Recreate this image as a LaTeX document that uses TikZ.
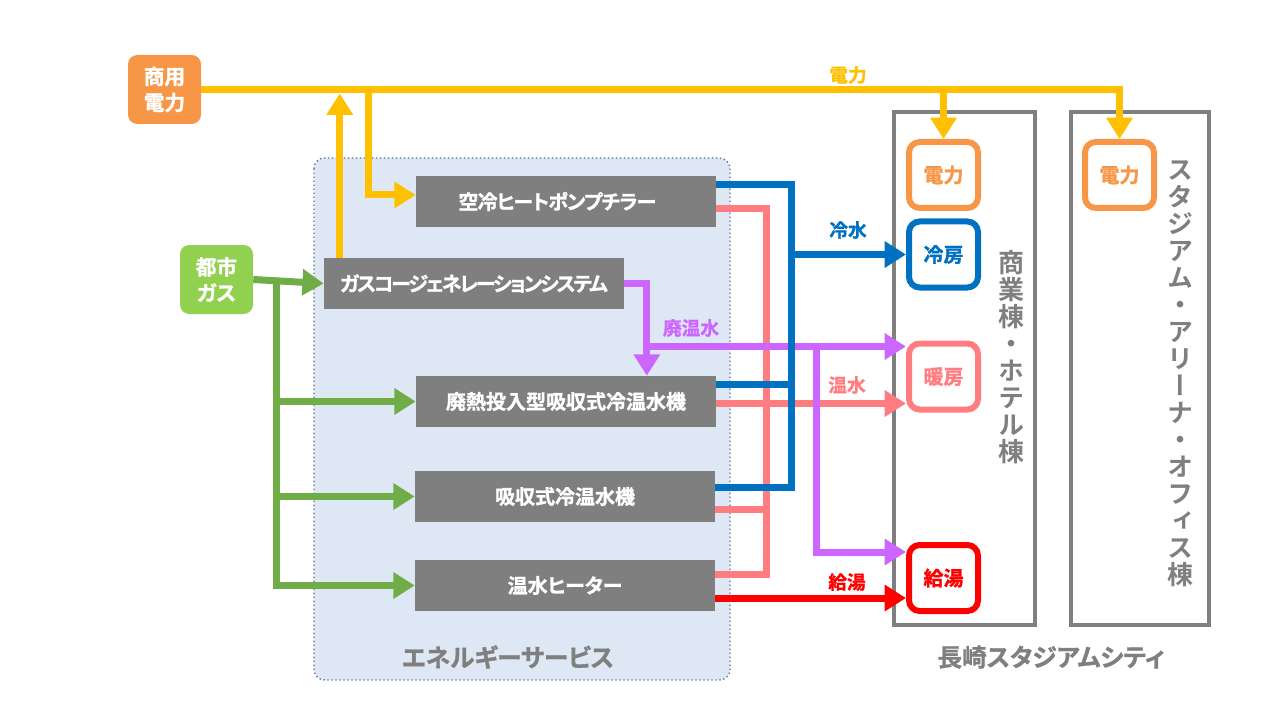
\documentclass[tikz,border=0pt]{standalone}
\usepackage{fontspec}
\setmainfont{Noto Sans CJK JP}[Script=CJK, CharacterWidth=AlternateProportional,
  BoldFont={Noto Sans CJK JP Bold}, BoldFeatures={FakeBold=1.2}]
\newfontfamily\tatefont{Noto Sans CJK JP}[Script=CJK, RawFeature=+vert,
  BoldFont={Noto Sans CJK JP Bold}]
\usetikzlibrary{arrows.meta}

\definecolor{denkiorange}{HTML}{F79646}
\definecolor{gaslight}{HTML}{92D050}
\definecolor{gasgreen}{HTML}{70AD47}
\definecolor{denkiyellow}{HTML}{FFC000}
\definecolor{reisuiblue}{HTML}{0070C0}
\definecolor{onsuipink}{HTML}{FF7C80}
\definecolor{haiviolet}{HTML}{CC66FF}
\definecolor{kyutored}{HTML}{FF0000}
\definecolor{plantgray}{HTML}{7F7F7F}
\definecolor{esback}{HTML}{DEE8F5}
\definecolor{esline}{HTML}{5B7090}

\tikzset{
  plant/.style={fill=plantgray, text=white, minimum width=225pt, minimum height=38.25pt,
    inner sep=0pt, font=\bfseries\fontsize{15}{18}\selectfont},
  tight/.style={font=\bfseries\fontsize{15}{18}\selectfont\addfontfeature{LetterSpace=#1}},
  supply/.style={fill=#1, rounded corners=7pt, text=white, minimum width=54.75pt,
    minimum height=51.75pt, inner sep=0pt, align=center,
    font=\bfseries\fontsize{15.5}{19.5}\selectfont},
  demand/.style={draw=#1, line width=4.5pt, fill=white, rounded corners=8pt, text=#1,
    minimum width=51.75pt, minimum height=49.5pt, inner sep=0pt,
    font=\bfseries\fontsize{15}{18}\selectfont},
  pipe/.style={draw=#1, line width=5.25pt},
  flow/.style={draw=#1, line width=5.25pt, -{Triangle[width=19pt,length=16pt]}},
  tag/.style={text=#1, font=\bfseries\fontsize{14}{16}\selectfont},
  bldg/.style={draw=plantgray, line width=3pt},
  grouplabel/.style={text=plantgray, font=\bfseries\fontsize{18.5}{20}\selectfont},
  tatelabel/.style={text=plantgray, align=center, inner sep=0pt,
    font=\tatefont\bfseries\fontsize{19.5}{20.25}\selectfont},
}

\begin{document}
\begin{tikzpicture}[x=0.75pt,y=-0.75pt]
    \useasboundingbox (0,0) rectangle (1280,720);

    % energy service area and buildings
    \draw [esline, dotted, line width=1pt, fill=esback, rounded corners=8pt] (314,158) rectangle (730,680);
    \node [grouplabel] (eslabel) at (508,657) {エネルギーサービス};
    \draw [bldg] (893.5,112.5) rectangle (1035,624.5);
    \draw [bldg] (1071,112.5) rectangle (1208.5,624.5);
    \node [grouplabel] (citylabel) at (1051,657) {長崎スタジアムシティ};
    \node [tatelabel] (bldgA) at (1011,357) {商\\業\\棟\\・\\ホ\\テ\\ル\\棟};
    \node [tatelabel] (bldgB) at (1180,374) {ス\\タ\\ジ\\ア\\ム\\・\\ア\\リ\\ー\\ナ\\・\\オ\\フ\\ィ\\ス\\棟};

    % sources
    \node [supply=denkiorange] (shoyo) at (164.5,89.5) {商用\\電力};
    \node [supply=gaslight] (toshigas) at (216.5,279.5) {都市\\ガス};

    % plants
    \node [plant, tight=-4] (chiller) at (566,201.5) {空冷ヒートポンプチラー\kern 13pt};
    \node [plant, tight=-10] (cgs) at (474,283.5) {ガスコージェネレーションシステム};
    \node [plant] (haineki) at (566,401.5) {廃熱投入型吸収式冷温水機};
    \node [plant] (kyushu) at (565,496.5) {吸収式冷温水機};
    \node [plant] (heater) at (565,585.5) {温水ヒーター};

    % uses
    \node [demand=denkiorange] (denkiA) at (943.5,175) {電力};
    \node [demand=reisuiblue] (reibo) at (943.5,254.5) {冷房};
    \node [demand=onsuipink] (danbo) at (943.5,376.5) {暖房};
    \node [demand=kyutored] (kyuto) at (943.5,578) {給湯};
    \node [demand=denkiorange] (denkiB) at (1119.5,175) {電力};

    % electricity
    \draw [flow=denkiyellow] (shoyo.east) -| (denkiB.north);
    \draw [flow=denkiyellow] (denkiA.north |- shoyo.east) -- (denkiA.north);
    \draw [flow=denkiyellow, shorten >=3pt] ([xshift=12pt]cgs.north west) -- ([xshift=12pt]cgs.north west |- shoyo.east);
    \draw [flow=denkiyellow] ([xshift=33.4pt]cgs.north west |- shoyo.east) |- ([yshift=4.9pt]chiller.west);
    \node [tag=denkiyellow] (denkitag) at (848,75) {電力};

    % city gas
    \coordinate (gasbus) at ([xshift=17.6pt]toshigas.east);
    \draw [flow=gasgreen] (toshigas.east) -- (cgs.west);
    \foreach \p in {haineki,kyushu,heater}
        \draw [flow=gasgreen] (gasbus) |- (\p.west);

    % hot water
    \coordinate (hbus) at (766.5,0);
    \coordinate (h1) at ([yshift=-5.25pt]chiller.east);
    \coordinate (h2) at ([yshift=-1.5pt]haineki.east);
    \coordinate (h3) at ([yshift=-9.4pt]kyushu.east);
    \coordinate (h4) at ([yshift=7.9pt]heater.east);
    \draw [pipe=onsuipink] (h1) -| (hbus |- h4) -- (h4);
    \draw [pipe=onsuipink] (h3) -- (hbus |- h3);
    \draw [flow=onsuipink] (h2) -- (h2 -| danbo.west);
    \node [tag=onsuipink] (onsuitag) at (847,385) {温水};

    % waste hot water
    \coordinate (hdrop) at ([xshift=16.9pt]cgs.east);
    \coordinate (hw) at ([yshift=22.5pt]danbo.west);
    \coordinate (pdrop) at ([xshift=-67.5pt]hw);
    \draw [flow=haiviolet] (cgs.east) -| (hdrop |- haineki.north);
    \draw [flow=haiviolet] (hdrop |- hw) -- (hw);
    \draw [flow=haiviolet] (pdrop) |- ([yshift=19.5pt]kyuto.west);
    \node [tag=haiviolet] (haitag) at (691,328) {廃温水};

    % chilled water
    \coordinate (cbus) at (791,0);
    \coordinate (c1) at ([yshift=12.4pt]chiller.east);
    \coordinate (c2) at ([yshift=12.4pt]haineki.east);
    \coordinate (c3) at ([yshift=7.1pt]kyushu.east);
    \draw [pipe=reisuiblue] (c1) -| (cbus |- c3) -- (c3);
    \draw [pipe=reisuiblue] (c2) -- (cbus |- c2);
    \draw [flow=reisuiblue] (cbus |- reibo.west) -- (reibo.west);
    \node [tag=reisuiblue] (reisuitag) at (848,230) {冷水};

    % hot water supply
    \draw [flow=kyutored] ([yshift=-9.4pt]heater.east) -- ([yshift=-9.4pt]heater.east -| kyuto.west);
    \node [tag=kyutored] (kyututag) at (847,582) {給湯};
\end{tikzpicture}
\end{document}
